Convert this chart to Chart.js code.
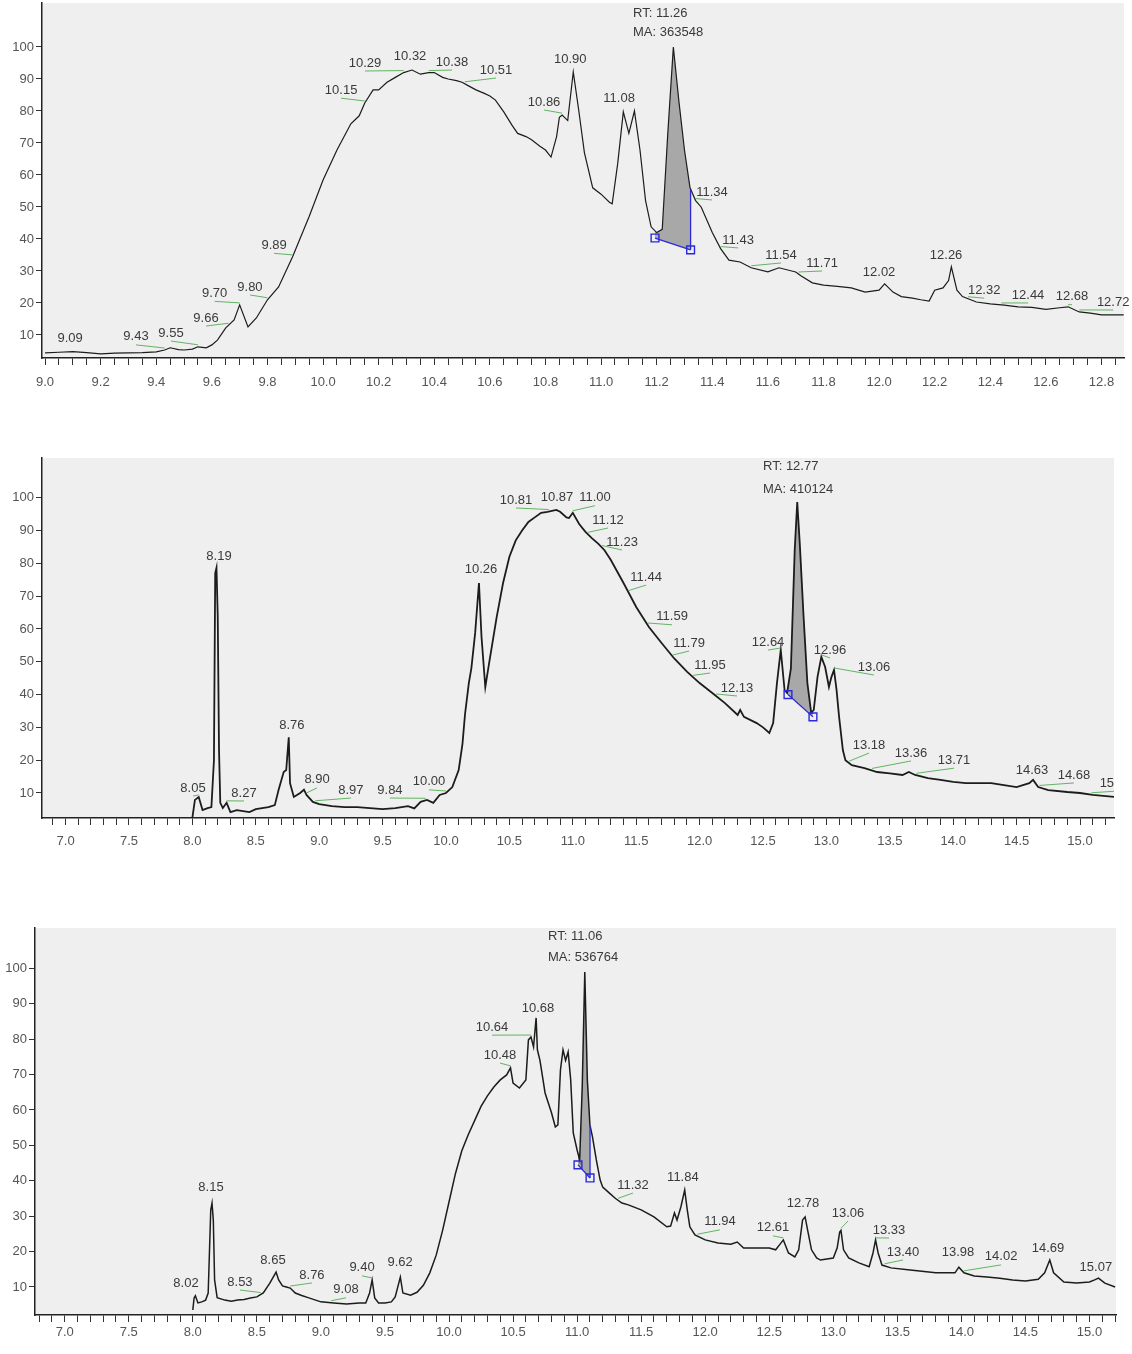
<!DOCTYPE html>
<html>
<head>
<meta charset="utf-8">
<script src="https://cdn.jsdelivr.net/npm/chart.js@4.4.1/dist/chart.umd.min.js"></script>
<style>
html, body { margin:0; padding:0; background:#fff; }
#wrap { position:relative; width:1132px; height:1354px; overflow:hidden; }
canvas { position:absolute; left:0; }
</style>
</head>
<body>
<div id="wrap">
<canvas id="c1" width="1132" height="405" style="top:-5px"></canvas>
<canvas id="c2" width="1132" height="410" style="top:450px"></canvas>
<canvas id="c3" width="1132" height="434" style="top:920px"></canvas>
</div>
<script>
// ---- dados (tempo de retencao em min, abundancia relativa %) ----
var p1Tempo = [9.00,9.05,9.10,9.15,9.20,9.25,9.30,9.35,9.40,9.43,
  9.45,9.48,9.50,9.53,9.55,9.58,9.60,9.62,9.65,9.68,
  9.70,9.73,9.76,9.80,9.84,9.89,9.95,10.00,10.05,10.10,
  10.13,10.15,10.18,10.20,10.23,10.26,10.29,10.32,10.35,10.38,
  10.40,10.43,10.45,10.48,10.50,10.52,10.55,10.58,10.60,10.62,
  10.65,10.68,10.70,10.73,10.75,10.78,10.80,10.82,10.84,10.85,
  10.86,10.88,10.90,10.92,10.94,10.97,11.00,11.03,11.04,11.06,
  11.08,11.10,11.12,11.14,11.16,11.18,11.20,11.22,11.24,11.26,
  11.28,11.30,11.32,11.34,11.36,11.40,11.43,11.46,11.50,11.54,
  11.60,11.64,11.70,11.72,11.76,11.80,11.85,11.90,11.95,12.00,
  12.02,12.05,12.08,12.12,12.15,12.18,12.20,12.23,12.25,12.26,
  12.28,12.30,12.35,12.40,12.45,12.50,12.55,12.60,12.65,12.68,
  12.72,12.76,12.80,12.88];
var p1Abund = [4.4,4.6,4.8,4.5,4.1,4.3,4.4,4.5,4.7,5.3,
  6.0,5.4,5.3,5.6,6.3,6.0,6.9,8.4,12.2,14.7,
  19.4,12.5,15.3,21.0,25.0,34.4,47.0,58.4,67.8,76.0,
  78.5,82.5,86.6,86.6,89.0,90.5,92.0,92.8,91.5,92.0,
  92.0,90.5,90.0,89.5,89.0,88.0,86.6,85.5,84.7,83.4,
  79.7,75.5,73.0,72.0,71.0,69.0,67.8,65.6,72.0,78.0,
  78.7,77.0,92.2,80.0,67.0,56.0,54.0,51.5,51.0,63.7,
  79.7,73.0,80.0,67.8,52.0,43.8,42.0,43.0,73.0,100,
  83.0,67.8,56.0,52.0,50.0,42.0,37.0,33.4,32.8,31.0,
  29.7,31.0,29.7,28.4,26.3,25.6,25.2,24.7,23.4,24.0,
  26.0,23.4,22.0,21.5,21.0,20.6,24.0,24.7,27.0,31.3,
  24.0,22.0,20.3,19.7,19.3,18.8,18.6,18.0,18.5,18.8,
  17.2,16.8,16.3,16.3];

var p2Tempo = [8.00,8.02,8.05,8.08,8.12,8.15,8.17,8.18,8.19,8.20,
  8.21,8.22,8.24,8.27,8.30,8.35,8.40,8.45,8.50,8.55,
  8.60,8.65,8.68,8.72,8.74,8.76,8.77,8.80,8.85,8.88,
  8.90,8.95,9.00,9.10,9.20,9.30,9.40,9.50,9.60,9.70,
  9.75,9.80,9.85,9.90,9.95,10.00,10.05,10.10,10.13,10.15,
  10.18,10.20,10.23,10.26,10.28,10.31,10.34,10.40,10.45,10.50,
  10.55,10.60,10.65,10.70,10.75,10.80,10.87,10.90,10.95,10.97,
  11.00,11.05,11.10,11.15,11.20,11.25,11.30,11.40,11.50,11.60,
  11.70,11.80,11.90,12.00,12.10,12.20,12.30,12.32,12.35,12.45,
  12.50,12.55,12.58,12.61,12.64,12.67,12.69,12.72,12.75,12.77,
  12.79,12.82,12.85,12.88,12.90,12.93,12.96,12.99,13.02,13.04,
  13.06,13.08,13.10,13.13,13.15,13.20,13.30,13.40,13.50,13.60,
  13.65,13.70,13.80,13.90,14.00,14.10,14.20,14.30,14.40,14.50,
  14.60,14.63,14.67,14.75,14.90,15.00,15.10,15.27];
var p2Abund = [2.5,7.9,8.8,4.8,5.4,5.7,20,77,78.6,63.7,
  23,7,5.4,7,4.2,4.8,4.5,4.2,5.1,5.4,
  5.7,6.3,11,16.4,17,27,13,8.8,10,11,
  9.4,7.3,6.6,6.0,5.7,5.7,5.4,5.1,5.4,6.0,
  5.3,7.3,7.9,7.0,9.4,10,11.8,17,25,34,
  43.5,48,58.8,74,57.6,42.3,49.6,63.7,74,82,
  87,90,92.6,94,95.4,95.7,96.3,95.7,94,93.8,
  95.4,92,89.6,87.7,86,84,81,74,66.7,60.6,
  55.7,51,47,43.5,40.5,37.4,33.8,35.3,33.2,31.3,
  30,28.3,31.3,43.5,53.6,41.4,40.5,48,84,98.7,
  86,63.7,43.5,34.4,35.3,45.4,51.5,48.4,42.3,45.4,
  47.5,41.4,33.2,23,20,18.5,17.6,16.4,16,15.5,
  16.4,15.5,14.5,14,13.4,13,13,13,12.4,11.8,
  13,14,11.8,10.9,10.3,10,9.4,8.8];

var p3Tempo = [8.00,8.01,8.02,8.04,8.07,8.10,8.12,8.14,8.15,8.16,
  8.17,8.19,8.25,8.30,8.35,8.40,8.45,8.50,8.55,8.60,
  8.65,8.67,8.70,8.73,8.76,8.80,8.85,8.90,9.00,9.10,
  9.20,9.30,9.35,9.38,9.40,9.42,9.45,9.50,9.55,9.58,
  9.62,9.64,9.70,9.75,9.80,9.85,9.90,9.95,10.00,10.05,
  10.10,10.15,10.20,10.25,10.30,10.35,10.40,10.45,10.48,10.50,
  10.55,10.60,10.62,10.64,10.66,10.68,10.69,10.71,10.75,10.80,
  10.83,10.85,10.87,10.89,10.91,10.93,10.95,10.97,11.00,11.02,
  11.04,11.06,11.08,11.10,11.12,11.15,11.18,11.20,11.25,11.30,
  11.35,11.40,11.50,11.60,11.70,11.73,11.76,11.78,11.81,11.84,
  11.86,11.88,11.92,12.00,12.10,12.20,12.25,12.30,12.40,12.50,
  12.55,12.58,12.61,12.65,12.70,12.73,12.76,12.78,12.80,12.83,
  12.87,12.90,12.95,13.00,13.03,13.05,13.06,13.08,13.12,13.20,
  13.28,13.31,13.33,13.35,13.38,13.45,13.60,13.80,13.95,13.98,
  14.02,14.10,14.20,14.30,14.40,14.50,14.60,14.65,14.69,14.72,
  14.80,14.90,15.00,15.04,15.07,15.12,15.20];
var p3Abund = [3.5,6.9,7.5,5.5,5.8,6.3,8.3,31.7,33.7,28.9,
  12,7,6.3,6.0,6.3,6.5,6.9,7.2,8.3,11,
  14.2,12,10.3,10,9.7,8.3,7.6,7.0,5.8,5.5,
  5.2,5.5,5.5,8.3,12,6.9,5.5,5.5,5.8,7.2,
  12.8,8.3,7.7,8.5,10.5,14,19,26,34,42,
  48.5,53,57,61,64,66.5,68.5,69.9,71.9,67.6,
  66.2,68.5,79.8,80.6,77.8,86,77,74,64.8,59.2,
  55.2,55.8,71.3,77,74,76.4,68.5,53.5,48.7,45.9,
  66.5,99,68.5,55.8,52.4,45.9,40.2,38.2,36.6,35,
  33.7,33.2,31.8,29.8,27,27.2,30.9,28.9,32.6,37.4,
  31.8,27,24.7,23.3,22.4,22.1,22.7,21,21,21,
  20.5,21.9,23.3,19.6,18.5,20.5,28.9,29.8,26,20.5,
  18.2,17.6,17.9,18.2,21,25.5,26,20.5,18.2,16.8,
  15.7,19.6,23.3,19.6,16.2,15.4,14.8,14,14,15.6,
  14,13.1,12.8,12.5,12,11.7,12.2,14,17.6,14,
  11.4,11.1,11.4,12,12.5,11.1,10];

// picos rotulados
var p1Picos = [9.09,9.43,9.55,9.66,9.70,9.80,9.89,10.15,10.29,10.32,10.38,10.51,10.86,10.90,11.08,11.34,11.43,11.54,11.71,12.02,12.26,12.32,12.44,12.68,12.72];
var p2Picos = [8.05,8.19,8.27,8.76,8.90,8.97,9.84,10.00,10.26,10.81,10.87,11.00,11.12,11.23,11.44,11.59,11.79,11.95,12.13,12.64,12.96,13.06,13.18,13.36,13.71,14.63,14.68,15.09];
var p3Picos = [8.02,8.15,8.53,8.65,8.76,9.08,9.40,9.62,10.48,10.64,10.68,11.32,11.84,11.94,12.61,12.78,13.06,13.33,13.40,13.98,14.02,14.69,15.07];

// pico integrado: inicio e fim da linha de base [tempo, abundancia]
var p1Base = [[11.194, 40.3], [11.322, 36.6]];
var p2Base = [[12.697, 40.0], [12.894, 33.2]];
var p3Base = [[11.007, 44.5], [11.101, 40.8]];
var p1Area = ['RT: 11.26', 'MA: 363548'];
var p2Area = ['RT: 12.77', 'MA: 410124'];
var p3Area = ['RT: 11.06', 'MA: 536764'];

// eixos
var p1XMaior = [9.0,9.2,9.4,9.6,9.8,10.0,10.2,10.4,10.6,10.8,11.0,11.2,11.4,11.6,11.8,12.0,12.2,12.4,12.6,12.8];
var p2XMaior = [7.0,7.5,8.0,8.5,9.0,9.5,10.0,10.5,11.0,11.5,12.0,12.5,13.0,13.5,14.0,14.5,15.0];
var p3XMaior = p2XMaior;
var yMarcas = [10,20,30,40,50,60,70,80,90,100];

// ---- posicao dos rotulos: [tempo do texto, altura do texto, linha guia] ----
var p1Pos = [[9.09,9.0,0],[9.327,9.4,1],[9.453,10.6,1],[9.579,15.3,1],[9.61,23,1],[9.737,25,1],[9.824,38,1],
  [10.065,86.5,1],[10.151,95,1],[10.313,96.9,0],[10.464,95.3,1],[10.622,92.8,1],[10.795,82.8,1],[10.889,96,0],
  [11.065,84,0],[11.399,54.7,1],[11.493,39.7,1],[11.647,35,1],[11.795,32.5,1],[12.0,29.7,0],[12.241,35,0],
  [12.378,24,1],[12.536,22.5,1],[12.694,22,1],[12.842,20.3,1]];
var p2Pos = [[8.005,11.5,1],[8.21,82,0],[8.407,10,1],[8.785,30.7,0],[8.983,14,1],[9.25,10.9,1],[9.558,10.9,1],
  [9.866,13.4,1],[10.276,78,0],[10.552,99.3,1],[10.875,100.2,0],[11.175,100,1],[11.278,93.2,1],[11.389,86.5,1],
  [11.578,75.8,1],[11.783,63.7,1],[11.917,55.7,1],[12.082,49,1],[12.295,42,1],[12.54,56,1],[13.028,53.6,1],
  [13.375,48.4,1],[13.336,24.6,1],[13.667,22.2,1],[14.006,20,1],[14.621,17,0],[14.952,15.5,1],[15.283,13,1]];
var p3Pos = [[7.947,11.1,0],[8.142,38,0],[8.368,11.4,1],[8.626,17.6,0],[8.93,13.4,1],[9.196,9.2,1],[9.321,15.4,1],
  [9.618,16.8,0],[10.398,75.5,1],[10.336,83.4,1],[10.695,88.8,0],[11.436,38.8,1],[11.826,41,0],[12.115,28.4,1],
  [12.529,26.7,1],[12.763,33.7,0],[13.115,30.9,1],[13.435,26.1,1],[13.544,19.9,1],[13.974,19.9,0],[14.31,18.5,1],
  [14.676,21,0],[15.05,15.6,0]];

var FONTE = '"Liberation Sans", Arial, sans-serif';
var AZUL = '#2a2ad8';

function valorEm(ts, vs, t) {
  if (t <= ts[0]) return vs[0];
  for (var i = 1; i < ts.length; i++) {
    if (t <= ts[i]) {
      var f = (t - ts[i-1]) / (ts[i] - ts[i-1]);
      return vs[i-1] + f * (vs[i] - vs[i-1]);
    }
  }
  return vs[vs.length - 1];
}

function marcasX(passo, min, max) {
  var out = [];
  var n0 = Math.ceil(min / passo - 1e-6), n1 = Math.floor(max / passo + 1e-6);
  for (var n = n0; n <= n1; n++) out.push({value: +(n * passo).toFixed(3)});
  return out;
}

var fundo = {
  id: 'fundo',
  beforeDraw: function(chart) {
    var a = chart.chartArea, ctx = chart.ctx;
    ctx.save();
    ctx.fillStyle = '#efefef';
    ctx.fillRect(a.left, a.top, a.right - a.left, a.bottom - a.top);
    ctx.restore();
  }
};

var rotulos = {
  id: 'rotulos',
  afterDatasetsDraw: function(chart, args, o) {
    var ctx = chart.ctx, ca = chart.chartArea, sx = chart.scales.x, sy = chart.scales.y;
    ctx.save();
    if (o.clip) { ctx.beginPath(); ctx.rect(0, 0, ca.right, chart.height); ctx.clip(); }
    ctx.font = '13px ' + FONTE;
    ctx.textBaseline = 'middle';
    o.picos.forEach(function(rt, i) {
      var p = o.pos[i];
      var px = sx.getPixelForValue(p[0]), py = sy.getPixelForValue(p[1]);
      if (p[2]) {
        var ax = sx.getPixelForValue(rt);
        var ay = sy.getPixelForValue(valorEm(o.tempo, o.abund, rt)) - 2;
        ctx.strokeStyle = '#62b462';
        ctx.lineWidth = 1;
        ctx.beginPath(); ctx.moveTo(px, py + 8); ctx.lineTo(ax, ay); ctx.stroke();
      }
      ctx.fillStyle = '#3a3a3a';
      ctx.textAlign = 'center';
      ctx.fillText(rt.toFixed(2), px, py);
    });
    ctx.textAlign = 'left';
    o.area.forEach(function(txt, i) {
      ctx.fillText(txt, sx.getPixelForValue(o.areaPos[0]), sy.getPixelForValue(o.areaPos[1][i]));
    });
    ctx.restore();
  }
};

function grafico(id, c) {
  var traco = c.tempo.map(function(t, i) { return {x: t, y: c.abund[i]}; });
  var a = c.base[0], b = c.base[1];
  var pico = [{x: a[0], y: valorEm(c.tempo, c.abund, a[0])}];
  c.tempo.forEach(function(t, i) { if (t > a[0] && t < b[0]) pico.push({x: t, y: c.abund[i]}); });
  pico.push({x: b[0], y: valorEm(c.tempo, c.abund, b[0])});

  var datasets = [
    {data: traco, borderColor: '#1c1c1c', borderWidth: c.lw, pointRadius: 0, fill: false, tension: 0, order: 2},
    {data: pico, borderColor: 'rgba(0,0,0,0)', borderWidth: 1, pointRadius: 0, fill: '+1', backgroundColor: '#a8a8a8', order: 3},
    {data: [{x: a[0], y: a[1]}, {x: b[0], y: b[1]}], borderColor: AZUL, borderWidth: 1.3, pointStyle: 'rect',
      pointRadius: 5.5, pointBorderColor: AZUL, pointBackgroundColor: 'rgba(0,0,0,0)', pointBorderWidth: 1.4, fill: false, order: 1}
  ];
  if (c.vline) {
    datasets.push({data: [{x: b[0], y: b[1]}, {x: b[0], y: valorEm(c.tempo, c.abund, b[0])}],
      borderColor: AZUL, borderWidth: 1.3, pointRadius: 0, fill: false, order: 1});
  }

  var eixoFonte = {family: FONTE, size: 13};
  new Chart(document.getElementById(id), {
    type: 'line',
    data: {datasets: datasets},
    options: {
      responsive: false,
      animation: false,
      devicePixelRatio: 1,
      layout: {padding: {top: c.padTop, right: c.padRight, left: 0, bottom: 0}},
      plugins: {
        legend: {display: false},
        tooltip: {enabled: false},
        rotulos: {picos: c.picos, pos: c.pos, tempo: c.tempo, abund: c.abund, clip: c.clip,
          area: c.area, areaPos: c.areaPos}
      },
      scales: {
        x: {
          type: 'linear', min: c.xmin, max: c.xmax,
          afterBuildTicks: function(s) { s.ticks = marcasX(c.passo, c.xmin, c.xmax); },
          afterFit: function(s) { s.height = c.xh; s.paddingLeft = 0; s.paddingRight = 0; },
          ticks: {
            autoSkip: false, maxRotation: 0, padding: c.xpad, color: '#555', font: eixoFonte,
            callback: function(v) {
              var maior = c.xMaior.some(function(m) { return Math.abs(m - v) < 1e-6; });
              return maior ? v.toFixed(1) : '';
            }
          },
          grid: {drawOnChartArea: false, drawTicks: true, tickLength: 7, color: '#333', lineWidth: 1},
          border: {display: true, color: '#222', width: 1.5}
        },
        y: {
          type: 'linear', min: c.ymin, max: c.ymax,
          afterBuildTicks: function(s) { s.ticks = yMarcas.map(function(v) { return {value: v}; }); },
          afterFit: function(s) { s.width = c.yw; s.paddingTop = 0; s.paddingBottom = 0; },
          ticks: {padding: 2, color: '#555', font: eixoFonte},
          grid: {drawOnChartArea: false, drawTicks: true, tickLength: 6, color: '#333', lineWidth: 1},
          border: {display: true, color: '#222', width: 1.5}
        }
      }
    },
    plugins: [fundo, rotulos]
  });
}

grafico('c1', {tempo: p1Tempo, abund: p1Abund, picos: p1Picos, pos: p1Pos, base: p1Base, area: p1Area,
  areaPos: [11.115, [110.6, 104.4]], vline: true, clip: false, xMaior: p1XMaior, passo: 0.05,
  xmin: 8.989, xmax: 12.881, ymin: 2.8, ymax: 113.75, padTop: 8, padRight: 8, yw: 42, xh: 42, xpad: 10, lw: 1.2});

grafico('c2', {tempo: p2Tempo, abund: p2Abund, picos: p2Picos, pos: p2Pos, base: p2Base, area: p2Area,
  areaPos: [12.5, [109.4, 102.4]], vline: false, clip: true, xMaior: p2XMaior, passo: 0.1,
  xmin: 6.814, xmax: 15.268, ymin: 2.38, ymax: 112.1, padTop: 8, padRight: 18, yw: 42, xh: 42, xpad: 9, lw: 1.8});

grafico('c3', {tempo: p3Tempo, abund: p3Abund, picos: p3Picos, pos: p3Pos, base: p3Base, area: p3Area,
  areaPos: [10.773, [108.9, 103.2]], vline: true, clip: false, xMaior: p3XMaior, passo: 0.1,
  xmin: 6.768, xmax: 15.207, ymin: 2.09, ymax: 111.4, padTop: 8, padRight: 16, yw: 35, xh: 39, xpad: 3, lw: 1.5});
</script>
</body>
</html>
